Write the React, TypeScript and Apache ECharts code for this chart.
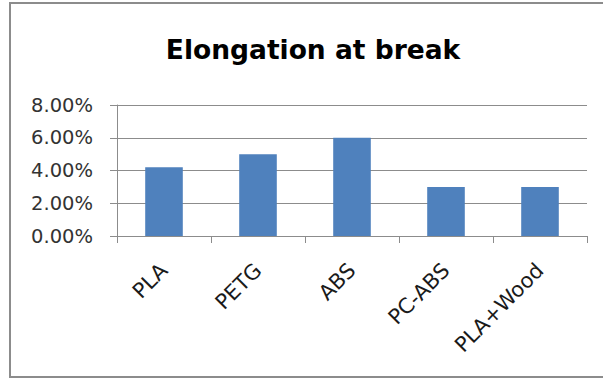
import React, { useEffect, useRef } from "react";
import * as echarts from "echarts";

const categories = ["PLA", "PETG", "ABS", "PC-ABS", "PLA+Wood"];
const elongation = [0.042, 0.05, 0.06, 0.03, 0.03];
const yTicks = [0, 0.02, 0.04, 0.06, 0.08];
const titleText = "Elongation at break";

export default function App() {
  const ref = useRef<HTMLDivElement>(null);
  useEffect(() => {
    document.body.style.margin = "0";
    const chart = echarts.init(ref.current!, null, { renderer: "svg" });
    chart.setOption({
      animation: false,
      backgroundColor: "#ffffff",
      title: {
        text: titleText,
        left: 308,
        top: 31,
        textAlign: "center",
        textStyle: {
          fontFamily: "DejaVu Sans",
          fontWeight: "bold",
          fontSize: 26.5,
          color: "#000000",
        },
      },
      graphic: [
        {
          type: "rect",
          shape: { x: 10, y: 3, width: 700, height: 374 },
          style: { fill: "none", stroke: "#8c8c8c", lineWidth: 2 },
          silent: true,
        },
      ],
      grid: { left: 117, right: 16, top: 105, bottom: 144, containLabel: false },
      xAxis: {
        type: "category",
        data: categories,
        boundaryGap: true,
        axisLine: { show: true, lineStyle: { color: "#8c8c8c", width: 1 } },
        axisTick: { show: true, alignWithLabel: false, length: 7, lineStyle: { color: "#8c8c8c" } },
        axisLabel: {
          rotate: 45,
          margin: 31,
          interval: 0,
          fontFamily: "DejaVu Sans",
          fontSize: 21,
          color: "#1a1a1a",
        },
        splitLine: { show: false },
      },
      yAxis: {
        type: "value",
        min: yTicks[0],
        max: yTicks[yTicks.length - 1],
        interval: yTicks[1] - yTicks[0],
        axisLine: { show: true, lineStyle: { color: "#8c8c8c", width: 1 } },
        axisTick: { show: true, length: 7, lineStyle: { color: "#8c8c8c" } },
        axisLabel: {
          margin: 24,
          fontFamily: "DejaVu Sans",
          fontSize: 19.5,
          color: "#333333",
          formatter: (v: number) => (v * 100).toFixed(2) + "%",
        },
        splitLine: { show: true, lineStyle: { color: "#8c8c8c", width: 1 } },
      },
      series: [
        {
          type: "bar",
          data: elongation,
          barWidth: "40%",
          itemStyle: { color: "#4F81BD" },
        },
      ],
    });
    return () => chart.dispose();
  }, []);
  return (
    <div
      ref={ref}
      style={{ position: "fixed", left: 0, top: 0, width: 603, height: 380 }}
    />
  );
}
